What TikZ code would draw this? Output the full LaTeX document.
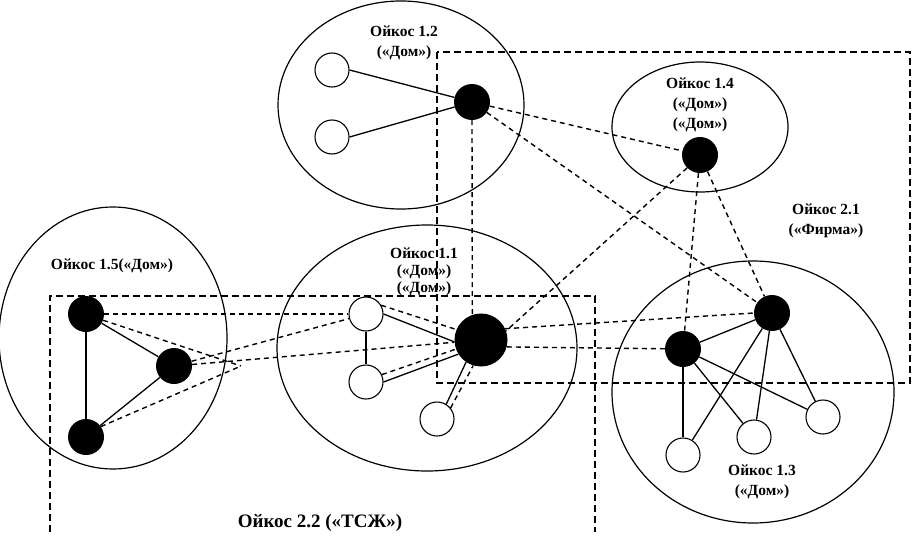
\documentclass[tikz,border=0pt]{standalone}
\usepackage{fontspec}
\setmainfont{Liberation Serif}
\begin{document}
\begin{tikzpicture}
	[	x=1pt,y=-1pt,
	empty/.style={circle,draw=black,fill=white,line width=1.1pt,minimum size=34pt,inner sep=0pt},
	full/.style={circle,fill=black,minimum size=36pt,inner sep=0pt},
	oikos/.style={draw=black,line width=1.2pt},
	frame/.style={draw=black,line width=1.7pt,dash pattern=on 7pt off 4pt},
	link/.style={draw=black,line width=1.3pt},
	tie/.style={draw=black,line width=1.4pt,dash pattern=on 5pt off 4pt},
	caption/.style={align=center,font={\fontsize{15.5}{20}\selectfont\bfseries}}
	]
\useasboundingbox (0,0) rectangle (912,535);
% oikos 1.x
\draw[oikos] (401,105) ellipse [x radius=123,y radius=104];
\draw[oikos] (700,127) ellipse [x radius=88,y radius=65];
\draw[oikos] (113,338) ellipse [x radius=114,y radius=131];
\draw[oikos] (427,348) ellipse [x radius=150,y radius=123];
\draw[oikos] (753,392) ellipse [x radius=141,y radius=131];
% oikos 2.x
\draw[frame] (437,52) rectangle (910,383);
\draw[frame] (50,532) -- (50,296) -- (595,296) -- (595,532);
% captions
\node[caption] (t12) at (404,43) {Ойкос 1.2\\(«Дом»)};
\node[caption] (t14) at (700,105) {Ойкос 1.4\\(«Дом»)\\(«Дом»)};
\node[caption] (t21) at (826,221) {Ойкос 2.1\\(«Фирма»)};
\node[caption] (t15) at (112,266) {Ойкос 1.5(«Дом»)};
\node[caption,font={\fontsize{15.5}{17}\selectfont\bfseries}] (t11) at (424,272) {Ойкос 1.1\\(«Дом»)\\(«Дом»)};
\node[caption] (t13) at (762,482) {Ойкос 1.3\\(«Дом»)};
\node[caption,font={\fontsize{19}{20}\selectfont\bfseries}] (t22) at (320,523) {Ойкос 2.2 («ТСЖ»)};
% members
\node[empty] (w121) at (332,70){};
\node[empty] (w122) at (332,137){};
\node[full] (b12) at (472,102){};
\node[full] (b14) at (700,155){};
\node[full] (b151) at (86,314){};
\node[full] (b152) at (174,366){};
\node[full] (b153) at (86,437){};
\node[empty] (w111) at (366,314){};
\node[empty] (w112) at (366,382){};
\node[empty] (w113) at (437,419){};
\node[full,minimum size=53pt] (b11) at (481,340){};
\node[full] (b131) at (683,349){};
\node[full] (b132) at (772,313){};
\node[empty] (w131) at (683,455){};
\node[empty] (w132) at (754,437){};
\node[empty] (w133) at (823,417){};
\coordinate (meet) at (241,366);
% ties inside
\draw[link] (w121.east) -- (b12);
\draw[link] (w122.east) -- (b12);
\draw[link,line width=1.8pt] (b151) -- (b153);
\draw[link] (b151) -- (b152);
\draw[link] (b152) -- (b153);
\draw[link] (w111) -- (w112);
\draw[link] (w111.east) -- (b11.184);
\draw[link] (w112.east) -- (b11.212);
\draw[link] (w113.58) -- (b11.236);
\draw[link] (b131) -- (b132);
\foreach \w in {w131,w132,w133}{
	\draw[link] (b131) -- (\w);
	\draw[link] (b132) -- (\w);
}
% ties between oikos
\draw[tie] (w111.30) -- (b11.157);
\draw[tie] (w112.25) -- (b11.200);
\draw[tie] (w113.39) -- (b11.253);
\draw[tie] (b12) -- (b14);
\draw[tie] (b12) -- (b132);
\draw[tie] (b12.south) -- (b11.109);
\draw[tie] (b14.225) -- (b11.20);
\draw[tie] (b14) -- (b131);
\draw[tie] (b14) -- (b132);
\draw[tie] (b11.25) -- (b132.west);
\draw[tie] (b11.345) -- (b131);
\draw[tie] (b151) -- (w111);
\draw[tie] (b151.-20) -- (meet);
\draw[tie] (b153.35) -- (meet);
\draw[tie] (b152) -- (w111);
\draw[tie] (b152) -- (b11);
\end{tikzpicture}
\end{document}
